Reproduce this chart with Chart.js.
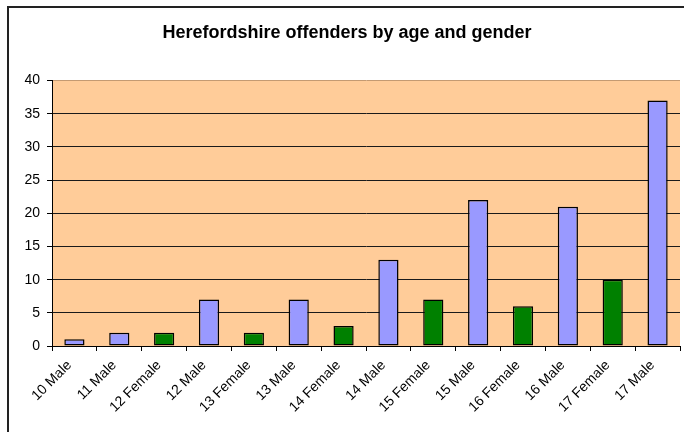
<!DOCTYPE html>
<html>
<head>
<meta charset="utf-8">
<script src="https://cdn.jsdelivr.net/npm/chart.js@4"></script>
<style>
    html, body { margin: 0; padding: 0; background: #fff; overflow: hidden; }
    #wrap { position: relative; width: 684px; height: 432px; }
    #frame {
        position: absolute; left: 7px; top: 6px; right: -4px; bottom: -4px;
        border-left: 2px solid #222; border-top: 2px solid #222;
        pointer-events: none;
    }
</style>
</head>
<body>
<div id="wrap">
    <canvas id="offendersChart"></canvas>
    <div id="frame"></div>
</div>
<script>
// Dados do gráfico
const categories = ['10 Male', '11 Male', '12 Female', '12 Male', '13 Female', '13 Male', '14 Female',
    '14 Male', '15 Female', '15 Male', '16 Female', '16 Male', '17 Female', '17 Male'];
const offenders = [1, 2, 2, 7, 2, 7, 3, 13, 7, 22, 6, 21, 10, 37];
const yTicks = [0, 5, 10, 15, 20, 25, 30, 35, 40];

const maleColor = '#9999FF';
const femaleColor = '#008000';
const barColors = categories.map(c => c.indexOf('Female') >= 0 ? femaleColor : maleColor);

// Fundo laranja da área do gráfico
const plotBackground = {
    id: 'plotBackground',
    beforeDraw(chart) {
        const a = chart.chartArea;
        const ctx = chart.ctx;
        ctx.save();
        ctx.fillStyle = '#FFCC99';
        ctx.fillRect(a.left, a.top, a.right - a.left, a.bottom - a.top);
        ctx.restore();
    }
};

const ctx = document.getElementById('offendersChart').getContext('2d');
new Chart(ctx, {
    type: 'bar',
    data: {
        labels: categories,
        datasets: [{
            data: offenders,
            backgroundColor: barColors,
            borderColor: '#000',
            borderWidth: 1.5,
            borderSkipped: false,
            barPercentage: 0.45,
            categoryPercentage: 1
        }]
    },
    options: {
        responsive: true,
        maintainAspectRatio: false,
        animation: false,
        layout: { padding: { left: 14, right: 4, top: 0, bottom: 0 } },
        plugins: {
            legend: { display: false },
            tooltip: { enabled: false },
            title: {
                display: true,
                text: 'Herefordshire offenders by age and gender',
                color: '#000',
                font: { family: 'Liberation Sans, Arial', size: 18, weight: 'bold' },
                padding: { top: 22, bottom: 37 }
            }
        },
        scales: {
            y: {
                min: 0,
                max: 40,
                afterBuildTicks: s => { s.ticks = yTicks.map(v => ({ value: v })); },
                afterFit: s => { s.width = 38; },
                grid: {
                    color: c => c.tick && c.tick.value === 40 ? '#c49a72' : '#1a1a1a',
                    lineWidth: 1,
                    drawTicks: true,
                    tickLength: 5,
                    tickColor: '#000'
                },
                border: { color: '#000', width: 1 },
                ticks: {
                    color: '#000',
                    padding: 7,
                    font: { family: 'Liberation Sans, Arial', size: 14 }
                }
            },
            x: {
                afterFit: s => { s.height = 86; },
                grid: {
                    offset: true,
                    drawOnChartArea: false,
                    drawTicks: true,
                    tickLength: 5,
                    color: '#000'
                },
                border: { color: '#000', width: 1 },
                ticks: {
                    color: '#000',
                    minRotation: 45,
                    maxRotation: 45,
                    padding: 6,
                    labelOffset: -5,
                    font: { family: 'Liberation Sans, Arial', size: 14 }
                }
            }
        }
    },
    plugins: [plotBackground]
});
</script>
</body>
</html>
